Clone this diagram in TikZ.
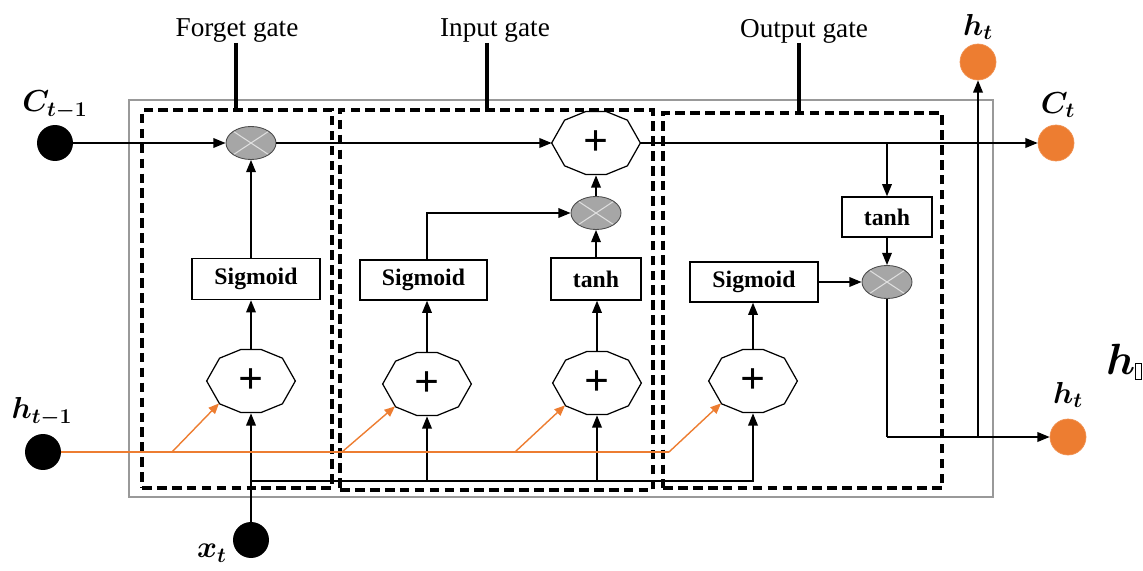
\documentclass[tikz,border=0pt]{standalone}
\usepackage{fontspec}
\setmainfont{Liberation Serif}
\usepackage{amsmath}
\usepackage{bm}
\usetikzlibrary{shapes.geometric,arrows.meta}
\definecolor{orng}{HTML}{ED7D31}
\definecolor{multfill}{HTML}{A6A6A6}
\newcommand\drawdeca[1]{\draw[line width=0.7pt] (#1.0)--(#1.36)--(#1.72)--(#1.108)--(#1.144)--(#1.180)--(#1.216)--(#1.252)--(#1.288)--(#1.324)--cycle;}
\begin{document}
\begin{tikzpicture}[x=0.02cm,y=-0.02cm,
  arr/.style={-{Triangle[length=7pt,width=5.5pt]}, line width=0.9pt},
  oarr/.style={orng, line width=0.8pt, -{Triangle[length=6pt,width=5pt]}},
  gatebox/.style={draw, dash pattern=on 5.5pt off 3pt, line width=2.1pt, inner sep=0},
  fnbox/.style={draw, line width=0.8pt, font=\bfseries\fontsize{13.5}{16}\selectfont, inner sep=0},
  mult/.style={ellipse, draw=gray!60!black, line width=0.5pt, fill=multfill, minimum width=1cm, minimum height=0.66cm, inner sep=0,
    path picture={\draw[gray!25, line width=0.6pt] (path picture bounding box.north west)--(path picture bounding box.south east) (path picture bounding box.north east)--(path picture bounding box.south west);}},
  addn/.style={ellipse, minimum width=1.76cm, minimum height=1.28cm, inner sep=0, font=\bfseries\fontsize{25}{25}\selectfont},
  blk/.style={circle, fill=black, minimum size=0.72cm, inner sep=0},
  org/.style={circle, fill=orng, draw=orng!85!white, minimum size=0.72cm, inner sep=0},
  mlab/.style={font=\fontsize{17}{20}\selectfont, inner sep=0},
  glab/.style={font=\fontsize{15.5}{18}\selectfont, inner sep=0},
  glline/.style={line width=2.1pt}]
\useasboundingbox (0,0) rectangle (1143,571);

% frames
\node[draw=gray!80, line width=0.8pt, minimum width=17.28cm, minimum height=7.94cm, inner sep=0] (outer) at (561,298.5) {};
\node[gatebox, minimum width=3.8cm, minimum height=7.56cm] (fbox) at (237,299) {};
\node[gatebox, minimum width=6.26cm, minimum height=7.6cm] (ibox) at (496.5,300) {};
\node[gatebox, minimum width=5.58cm, minimum height=7.5cm] (obox) at (802.5,300.5) {};

% gate labels
\node[glab] (fgl) at (237,31) {Forget gate};
\node[glab] (igl) at (495,31) {Input gate};
\node[glab] (ogl) at (804,31) {Output gate};
\coordinate (fgt) at (236,43);
\coordinate (igt) at (487,43);
\coordinate (ogt) at (799,43);
\draw[glline] (fgt) -- (fgt |- fbox.north);
\draw[glline] (igt) -- (igt |- ibox.north);
\draw[glline] (ogt) -- (ogt |- obox.north);

% inputs / outputs
\node[blk] (c0) at (55,143) {};
\node[blk] (h0) at (43,452) {};
\node[blk] (x0) at (251,540) {};
\node[org] (ct) at (1056,143) {};
\node[org] (ht1) at (978,62) {};
\node[org] (ht2) at (1068,437) {};
\node[mlab] (c0l) at (55,105) {$\bm{C_{t-1}}$};
\node[mlab] (h0l) at (42,412) {$\bm{h_{t-1}}$};
\node[mlab] (x0l) at (212,553) {$\bm{x_t}$};
\node[mlab] (ctl) at (1058,105) {$\bm{C_t}$};
\node[mlab] (ht1l) at (978,27) {$\bm{h_t}$};
\node[mlab] (ht2l) at (1068,395) {$\bm{h_t}$};
\node[font=\fontsize{26}{28}\selectfont, inner sep=0] (hq) at (1124,362) {$\bm{h}$\raisebox{-3pt}{\setlength{\fboxsep}{0pt}\setlength{\fboxrule}{0.4pt}\fbox{\rule{0pt}{9pt}\hspace{3pt}}}};

% operators
\node[mult] (fm) at (251,143) {};
\node[fnbox, minimum width=2.56cm, minimum height=0.82cm] (fs) at (256,279) {Sigmoid};
\node[addn] (fp) at (251,381) {+};
\drawdeca{fp}

\node[fnbox, minimum width=2.54cm, minimum height=0.8cm] (is) at (423.5,280) {Sigmoid};
\node[addn] (ip1) at (427,384) {+};
\drawdeca{ip1}
\node[fnbox, minimum width=1.8cm, minimum height=0.84cm] (it) at (596,279) {tanh};
\node[addn] (ip2) at (597,383) {+};
\drawdeca{ip2}
\node[mult] (im) at (596,213) {};
\node[addn] (ia) at (596,143) {+};
\drawdeca{ia}

\node[fnbox, minimum width=2.56cm, minimum height=0.8cm] (os) at (754,282) {Sigmoid};
\node[addn] (op) at (753,381) {+};
\drawdeca{op}
\node[fnbox, minimum width=1.8cm, minimum height=0.8cm] (ot) at (887,217) {tanh};
\node[mult] (om) at (887,282) {};

% cell state line
\draw[arr] (c0) -- (fm);
\draw[arr] (fm) -- (ia);
\draw[arr] (ia) -- (ct);
\coordinate (cb) at (887,143);
\draw[arr] (cb) -- (ot.north);
\draw[arr] (ot) -- (om);
\draw[arr] (os) -- (om);
\coordinate (hb) at (887,437);
\coordinate (hv) at (978,437);
\draw[line width=0.9pt] (om.south) -- (hb);
\draw[arr] (hb) -- (ht2);
\draw[arr] (hv) -- (ht1);

% forget gate
\draw[arr] (fp.north) -- (fp.north |- fs.south);
\draw[arr] (fs.north -| fm) -- (fm.south);

% input gate
\draw[arr] (ip1.north) -- (ip1.north |- is.south);
\draw[arr] (ip1 |- is.north) -- (ip1 |- im) -- (im.west);
\draw[arr] (ip2.north) -- (ip2.north |- it.south);
\draw[arr] (it.north -| im) -- (im.south);
\draw[arr] (im.north) -- (ia.south);

% output gate
\draw[arr] (op.north) -- (op.north |- os.south);

% x_t
\coordinate (xr) at (251,481);
\draw[arr] (x0) -- (fp.south);
\draw[arr] (xr) -- (xr -| op) -- (op.south);
\draw[arr] (xr -| ip1) -- (ip1.south);
\draw[arr] (xr -| ip2) -- (ip2.south);

% h_{t-1}
\coordinate (b1) at (172,452);
\coordinate (b2) at (342,452);
\coordinate (b3) at (515,452);
\coordinate (b4) at (669,452);
\draw[orng, line width=0.8pt] (h0) -- (b4);
\draw[oarr] (b1) -- (fp.215);
\draw[oarr] (b2) -- (ip1.215);
\draw[oarr] (b3) -- (ip2.215);
\draw[oarr] (b4) -- (op.215);
\end{tikzpicture}
\end{document}
